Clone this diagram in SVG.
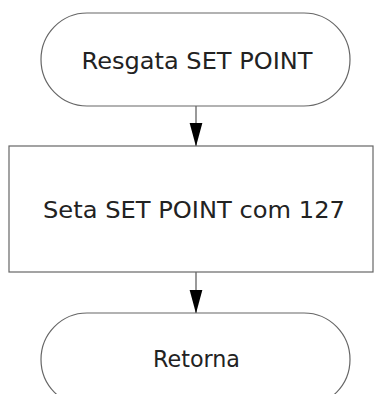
<svg xmlns="http://www.w3.org/2000/svg" width="376" height="394" viewBox="0 0 376 394">
<defs>
<style>
.shape{fill:#ffffff;stroke:#666666;stroke-width:1.2}
.lbl{font-family:"DejaVu Sans","Verdana",sans-serif;font-size:23.5px;fill:#222222;text-anchor:middle}
.conn{stroke:#555555;stroke-width:1.2;fill:none}
</style>
<marker id="arr" markerWidth="24" markerHeight="14" refX="23.5" refY="6.5" orient="auto" markerUnits="userSpaceOnUse" viewBox="0 0 24 13">
<path d="M0,0 L24,6.5 L0,13 Z" fill="#000000"/>
</marker>
</defs>
<rect width="376" height="394" fill="#ffffff"/>
<g id="connectors">
<line class="conn" x1="196" y1="106" x2="196" y2="146" marker-end="url(#arr)" />
<line class="conn" x1="196" y1="272" x2="196" y2="313" marker-end="url(#arr)" />
</g>
<g id="n1">
<rect class="shape" x="41" y="13" width="309" height="93" rx="46" ry="46.5"/>
<text class="lbl" x="197" y="68.5" textLength="231" lengthAdjust="spacingAndGlyphs">Resgata SET POINT</text>
</g>
<g id="n2">
<rect class="shape" x="9" y="146" width="364" height="126"/>
<text class="lbl" x="194" y="217.5" textLength="302" lengthAdjust="spacingAndGlyphs">Seta SET POINT com 127</text>
</g>
<g id="n3">
<rect class="shape" x="41" y="313" width="309" height="93" rx="46" ry="46.5"/>
<text class="lbl" x="196.5" y="367" textLength="87" lengthAdjust="spacingAndGlyphs">Retorna</text>
</g>
</svg>
